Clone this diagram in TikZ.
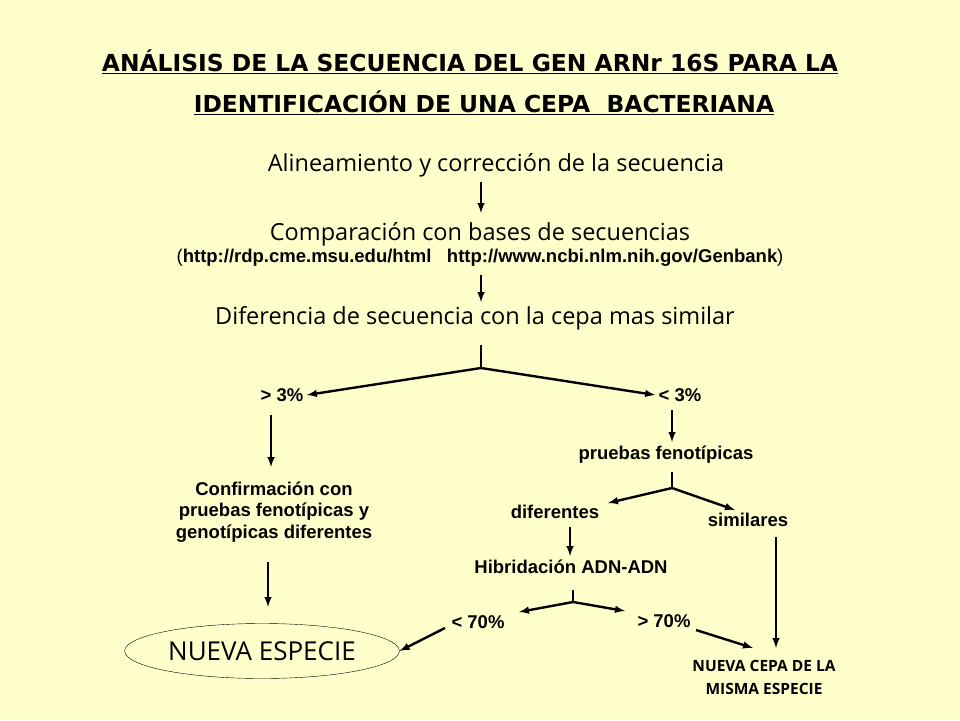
\documentclass[tikz,border=0pt]{standalone}
\usepackage{fontspec}
\setmainfont{Liberation Sans}
\newfontfamily\titlefont{DejaVu Sans}
\newfontfamily\handfont{Open Sans}
\usetikzlibrary{positioning,shapes.geometric}
\definecolor{paper}{HTML}{FFFFCC}
\tikzset{
  lbl/.style={font=\fontsize{18.5}{21.5}\selectfont\bfseries, align=center},
  hand/.style={font=\handfont\fontsize{23.5}{26}\selectfont, align=center},
  arr/.style={line width=2.4pt,-latex},
  stem/.style={line width=2.4pt},
}
\begin{document}
\begin{tikzpicture}[x=1pt,y=-1pt]
\fill[paper] (0,0) rectangle (960,720);
\useasboundingbox (0,0) rectangle (960,720);
\node[font=\titlefont\bfseries\fontsize{23.4}{26}\selectfont] (t1) at (470,62) {\underline{ANÁLISIS DE LA SECUENCIA DEL GEN ARNr 16S PARA LA}};
\node[font=\titlefont\bfseries\fontsize{23.4}{26}\selectfont] (t2) at (484,103) {\underline{IDENTIFICACIÓN DE UNA CEPA\ \ BACTERIANA}};

\node[hand] (alin) at (496,165) {Alineamiento y corrección de la secuencia};
\node[hand] (comp) at (480,234) {Comparación con bases de secuencias};
\node[font=\fontsize{18.5}{20}\selectfont] (url) at (480,258) {(\textbf{http://rdp.cme.msu.edu/html\ \ \ http://www.ncbi.nlm.nih.gov/Genbank})};
\node[hand] (dif) at (475,318) {Diferencia de secuencia con la cepa mas similar};
\draw[arr] (481,182) -- (481,213);
\draw[arr] (481,275) -- (481,302);

% primera bifurcacion
\coordinate (b1) at (481,368);
\node[lbl] (may3) at (282,395) {> 3\%};
\node[lbl] (men3) at (680,395) {< 3\%};
\draw[stem] (481,345) -- (b1);
\draw[arr] (b1) -- (may3.east);
\draw[arr] (b1) -- (men3.west);

\node[lbl] (conf) at (274,512) {Confirmación con\\pruebas fenotípicas y\\genotípicas diferentes};
\node[lbl] (feno) at (666,455) {pruebas fenotípicas};
\draw[arr] (271,415) -- (271,467);
\draw[arr] (672,410) -- (672,442);

% segunda bifurcacion
\coordinate (b2) at (672,488);
\node[lbl] (difer) at (555,512) {diferentes};
\node[lbl] (simil) at (748,520) {similares};
\draw[stem] (672,472) -- (b2);
\draw[arr] (b2) -- (608,503);
\draw[arr] (b2) -- (735,510);

\node[lbl] (hibr) at (571,567) {Hibridación ADN-ADN};
\draw[arr] (570,527) -- (570,556);

% tercera bifurcacion
\coordinate (b3) at (573,602);
\node[lbl] (men70) at (478,622) {< 70\%};
\node[lbl] (may70) at (664,621) {> 70\%};
\draw[stem] (573,590) -- (b3);
\draw[arr] (b3) -- (519,612);
\draw[arr] (b3) -- (625,611);

\node[draw, ellipse, minimum width=226pt, minimum height=55pt, font=\handfont\fontsize{26}{28}\selectfont] (nesp) at (262,651) {NUEVA ESPECIE};
\node[font=\handfont\fontsize{15.5}{23}\selectfont\bfseries, align=center] (ncepa) at (764,677) {NUEVA CEPA DE LA\\MISMA ESPECIE};
\draw[arr] (268,562) -- (268,607);
\draw[arr] (445,628) -- (nesp.east);
\draw[arr] (696,630) -- (753,648);
\draw[arr] (776,537) -- (776,648);
\end{tikzpicture}
\end{document}
